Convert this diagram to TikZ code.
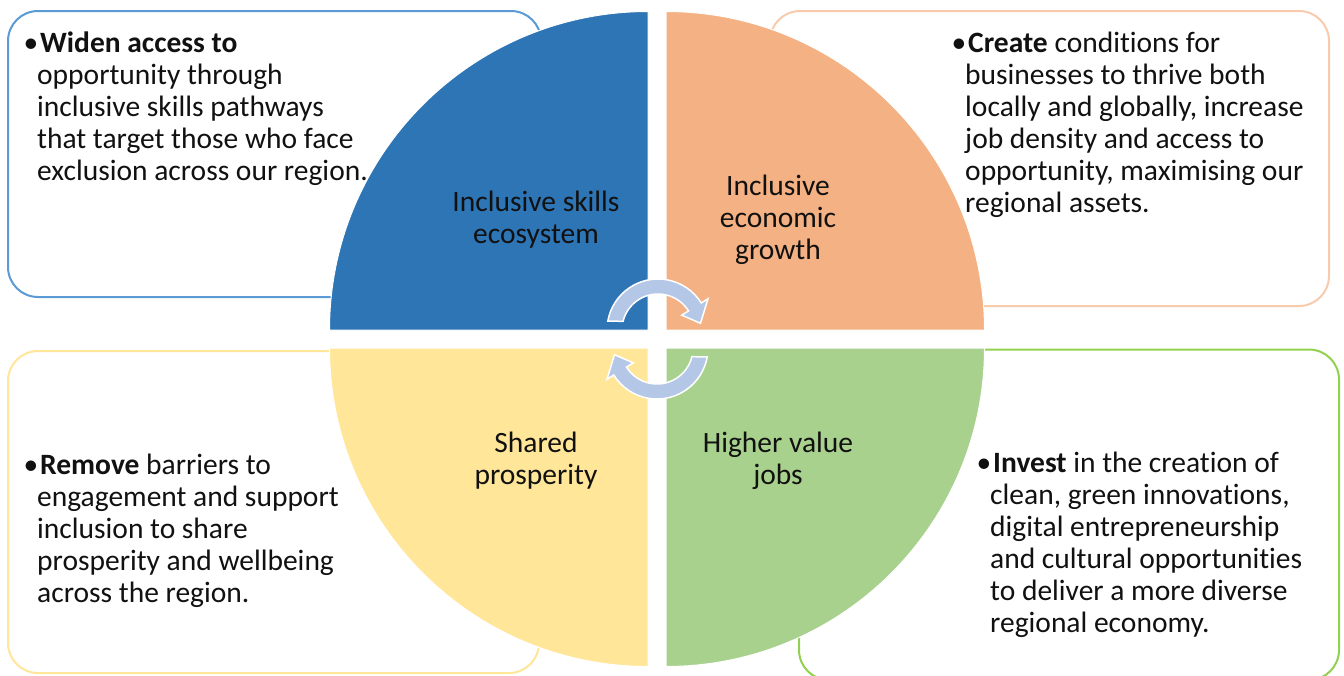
\documentclass[tikz,border=0pt]{standalone}
\usepackage{fontspec}
\setmainfont{Carlito}[Ligatures=NoCommon]
\usetikzlibrary{calc}
\definecolor{qblue}{HTML}{2E75B6}
\definecolor{qorange}{HTML}{F4B183}
\definecolor{qyellow}{HTML}{FFE699}
\definecolor{qgreen}{HTML}{A9D18E}
\definecolor{bblue}{HTML}{5B9BD5}
\definecolor{borange}{HTML}{F8CBAD}
\definecolor{byellow}{HTML}{FFE699}
\definecolor{bgreen}{HTML}{92D050}
\definecolor{arrowfill}{HTML}{B4C7E7}
\definecolor{ink}{HTML}{111111}
\newcommand{\bulletmark}{\llap{•\kern-1pt}\kern3pt}
\tikzset{
  infobox/.style={rounded corners=30pt, line width=2pt, fill=white},
  quad/.style={draw=white, line width=1pt},
  bodytext/.style={anchor=north west, inner sep=0pt, align=left, text=ink,
    font=\fontsize{29.5}{32}\selectfont},
  quadlabel/.style={align=center, inner sep=0pt, text=ink,
    font=\fontsize{29.5}{32}\selectfont},
  cyclearrow/.style={fill=arrowfill, draw=white, line width=1.5pt, line join=miter}
}
\begin{document}
\begin{tikzpicture}[x=1pt,y=1pt]
\useasboundingbox (0,0) rectangle (1344,-675);
\begin{scope}
\clip (0,0) rectangle (1344,-675);
% info boxes
\draw[infobox, draw=bblue] (8,-11) rectangle (541,-297);
\draw[infobox, draw=borange] (770,-11) rectangle (1329,-306);
\draw[infobox, draw=byellow] (8,-351) rectangle (539,-673);
\draw[infobox, draw=bgreen] (799,-349.5) rectangle (1339,-680);
\end{scope}
% quadrants
\fill[quad, fill=qblue] (648,-330) -- (329.5,-330) arc[start angle=180, end angle=90, radius=318.5] -- cycle;
\fill[quad, fill=qorange] (666,-330) -- (666,-11.5) arc[start angle=90, end angle=0, radius=318.5] -- cycle;
\fill[quad, fill=qyellow] (648,-348) -- (329.5,-348) arc[start angle=180, end angle=270, radius=318.5] -- cycle;
\fill[quad, fill=qgreen] (666,-348) -- (984.5,-348) arc[start angle=0, end angle=-90, radius=318.5] -- cycle;
% quadrant labels
\node[quadlabel] (q1) at (536,-220) {Inclusive skills\\ecosystem};
\node[quadlabel] (q2) at (778,-220) {Inclusive\\economic\\growth};
\node[quadlabel] (q3) at (536,-461) {Shared\\prosperity};
\node[quadlabel] (q4) at (778,-461) {Higher value\\jobs};
% cycle arrows
\coordinate (c1) at (658,-330);
\draw[cyclearrow] ($(c1)+(170:51)$) arc[start angle=170, end angle=32, radius=51]
  -- ($(c1)+(32:59)$) -- ($(c1)+(9:43)$) -- ($(c1)+(32:28)$) -- ($(c1)+(32:36)$)
  arc[start angle=32, end angle=166, radius=36] -- cycle;
\coordinate (c2) at (657,-348);
\draw[cyclearrow] ($(c2)+(-10:51)$) arc[start angle=-10, end angle=-148, radius=51]
  -- ($(c2)+(-148:59)$) -- ($(c2)+(-171:43)$) -- ($(c2)+(-148:28)$) -- ($(c2)+(-148:36)$)
  arc[start angle=-148, end angle=-14, radius=36] -- cycle;
% body texts
\node[bodytext] (t1) at (37,-32) {\bulletmark\textbf{Widen access to}\\opportunity through\\inclusive skills pathways\\that target those who face\\exclusion across our region.};
\node[bodytext] (t2) at (965,-32) {\bulletmark\textbf{Create} conditions for\\businesses to thrive both\\locally and globally, increase\\job density and access to\\opportunity, maximising our\\regional assets.};
\node[bodytext] (t3) at (37,-454) {\bulletmark\textbf{Remove} barriers to\\engagement and support\\inclusion to share\\prosperity and wellbeing\\across the region.};
\node[bodytext] (t4) at (990,-452) {\bulletmark\textbf{Invest} in the creation of\\clean, green innovations,\\digital entrepreneurship\\and cultural opportunities\\to deliver a more diverse\\regional economy.};
\end{tikzpicture}
\end{document}
